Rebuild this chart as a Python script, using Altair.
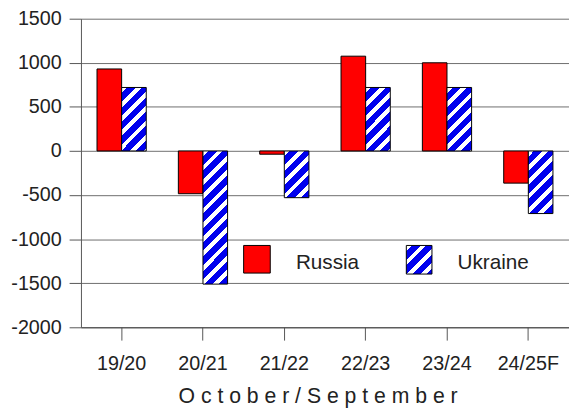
import altair as alt
import pandas as pd

seasons = ["19/20", "20/21", "21/22", "22/23", "23/24", "24/25F"]
russia = [930, -485, -37, 1075, 1000, -365]
ukraine = [720, -1510, -530, 720, 720, -710]
countries = ["Russia", "Ukraine"]
y_ticks = [-2000, -1500, -1000, -500, 0, 500, 1000, 1500]

FONT = "Liberation Sans"
RED = "#ff0000"
BLUE = "#0000ee"
W, H = 495, 313
YMIN, YMAX = -2000, 1500
BAR_W = 25

df = pd.DataFrame({
    "season": seasons * 2,
    "country": ["Russia"] * len(seasons) + ["Ukraine"] * len(seasons),
    "value": russia + ukraine,
})


def hatch(w, h, slope=1.0, period=14.5, white_frac=0.4, color=BLUE):
    """Diagonal white/blue stripes as a linear gradient in bbox units."""
    s = slope
    c = (s * w + h) / (s * s * w * w + h * h)
    x2 = c * s * w
    y2 = c * h
    n = (s * w + h) / period
    pt = 1.0 / n
    stops = []
    k = 0
    while k * pt < 1:
        a = k * pt
        b = min(1.0, a + white_frac * pt)
        e = min(1.0, (k + 1) * pt)
        stops += [
            {"offset": round(a, 5), "color": "#ffffff"},
            {"offset": round(b, 5), "color": "#ffffff"},
            {"offset": round(b, 5), "color": color},
            {"offset": round(e, 5), "color": color},
        ]
        k += 1
    return {"gradient": "linear", "x1": 0, "y1": 0, "x2": round(x2, 5),
            "y2": round(y2, 5), "stops": stops}


x_enc = alt.X(
    "season:N",
    sort=seasons,
    scale=alt.Scale(domain=seasons, paddingInner=0, paddingOuter=0),
    axis=alt.Axis(
        title="O c t o b e r / S e p t e m b e r",
        titleFont=FONT, titleFontSize=21.5, titleFontWeight="normal",
        titleColor="#222222", titleX=240, titleY=76,
        titleBaseline="alphabetic", titleAlign="center",
        labelFont=FONT, labelFontSize=20, labelColor="#222222",
        labelAngle=0, labelPadding=14,
        tickSize=13, tickColor="#555555", domainColor="#444444",
        grid=False,
    ),
)
xo_enc = alt.XOffset(
    "country:N",
    scale=alt.Scale(domain=countries, paddingInner=0, paddingOuter=0.652),
)
y_enc = alt.Y(
    "value:Q",
    scale=alt.Scale(domain=[YMIN, YMAX], nice=False, zero=False),
    axis=alt.Axis(
        values=y_ticks, title=None, labelExpr="'' + datum.value",
        labelFont=FONT, labelFontSize=20, labelColor="#222222",
        labelPadding=8, tickSize=12, tickColor="#555555",
        domainColor="#555555", gridColor="#6e6e6e", grid=True,
    ),
)

base = alt.Chart(df).encode(x=x_enc, xOffset=xo_enc, y=y_enc)

layers = [
    base.transform_filter(alt.datum.country == "Russia").mark_bar(
        fill=RED, stroke="#000000", strokeWidth=1
    )
]

px_per_unit = H / (YMAX - YMIN)
for s, v in zip(seasons, ukraine):
    h = abs(v) * px_per_unit
    layers.append(
        base.transform_filter(
            (alt.datum.country == "Ukraine") & (alt.datum.season == s)
        ).mark_bar(fill=hatch(BAR_W, h), stroke="#000000", strokeWidth=1)
    )

leg_df = pd.DataFrame({"label": countries})
leg_r = alt.Chart(leg_df).transform_filter(alt.datum.label == "Russia").mark_rect(
    fill=RED, stroke="#000000", strokeWidth=1
).encode(x=alt.value(165), x2=alt.value(192), y=alt.value(230), y2=alt.value(258))
leg_u = alt.Chart(leg_df).transform_filter(alt.datum.label == "Ukraine").mark_rect(
    fill=hatch(26, 29), stroke="#000000", strokeWidth=1
).encode(x=alt.value(330), x2=alt.value(356), y=alt.value(230), y2=alt.value(259))
leg_tr = alt.Chart(leg_df).transform_filter(alt.datum.label == "Russia").mark_text(
    font=FONT, fontSize=21, color="#222222", align="left", baseline="alphabetic"
).encode(x=alt.value(218), y=alt.value(254), text="label:N")
leg_tu = alt.Chart(leg_df).transform_filter(alt.datum.label == "Ukraine").mark_text(
    font=FONT, fontSize=21, color="#222222", align="left", baseline="alphabetic"
).encode(x=alt.value(382), y=alt.value(254), text="label:N")

chart = alt.layer(*layers, leg_r, leg_u, leg_tr, leg_tu).properties(
    width=W,
    height=H,
    autosize=alt.AutoSizeParams(type="none"),
    padding={"left": 74, "top": 8, "right": 0, "bottom": 79},
    background="#ffffff",
).configure_view(stroke=None)

chart.save("out.html", embed_options={"renderer": "svg", "actions": False})
